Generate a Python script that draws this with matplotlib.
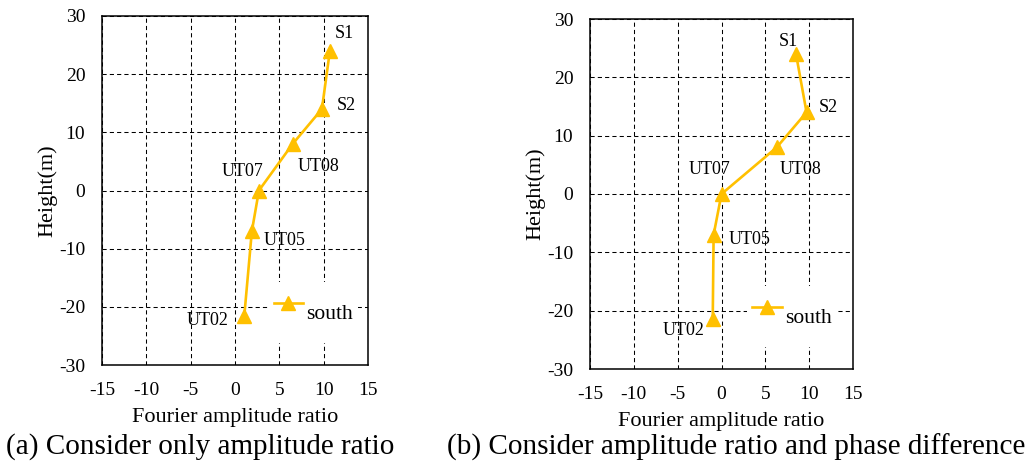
import matplotlib
matplotlib.use("Agg")
import matplotlib.pyplot as plt

plt.rcParams['font.family'] = ['Liberation Serif', 'DejaVu Serif']
plt.rcParams['axes.unicode_minus'] = False

# data
labels = ["S1", "S2", "UT08", "UT07", "UT05", "UT02"]
heights = [24, 14, 8, 0, -7, -21.5]
ratio_a = [10.7, 9.8, 6.5, 2.7, 1.9, 1.05]
ratio_b = [8.5, 9.7, 6.3, 0.0, -0.9, -1.0]

# label offsets in pixels (dx, dy) for each point
offsets_a = [(15, 17), (24, 4), (26, -23), (-16, 19), (33, -9), (-37, -5)]
offsets_b = [(-8, 12), (22, 5), (24, -22), (-12, 24), (36, -5), (-29, -11)]

line_color = '#FFC000'

fig = plt.figure(figsize=(10.33, 4.7), dpi=100)
W, H = 1033, 470


def make_axes(l, r, t, b):
    return fig.add_axes([l / W, (H - b) / H, (r - l) / W, (b - t) / H])


def draw_panel(ax, xs, offsets, leg_x):
    ax.plot(xs, heights, color=line_color, lw=1.9, marker='^', markersize=9.5,
            label='south', zorder=3)
    for name, x, y, (dx, dy) in zip(labels, xs, heights, offsets):
        ax.annotate(name, (x, y), xytext=(dx, dy), textcoords='offset pixels',
                    ha='center', va='center', fontsize=13, zorder=4)
    ax.set_xlim(-15, 15)
    ax.set_ylim(-30, 30)
    ax.set_xticks(range(-15, 16, 5))
    ax.set_yticks(range(-30, 31, 10))
    ax.grid(True, color='black', linestyle=(0, (4, 3)), linewidth=0.75)
    ax.set_axisbelow(True)
    ax.tick_params(length=0, labelsize=14)
    ax.tick_params(axis='y', pad=12)
    ax.tick_params(axis='x', pad=12)
    for sp in ax.spines.values():
        sp.set_linewidth(1.1)
        sp.set_color('black')
    ax.set_xlabel("Fourier amplitude ratio", fontsize=16, labelpad=7)
    ax.set_ylabel("Height(m)", fontsize=16, labelpad=1)
    ax.legend(loc='center', bbox_to_anchor=(leg_x, 1 / 6 - 0.017),
              bbox_transform=ax.transAxes, fontsize=15.5,
              handlelength=1.35, handletextpad=0.15, handleheight=3.2,
              borderpad=0.25, borderaxespad=0, frameon=True,
              fancybox=False, facecolor='white', edgecolor='none',
              framealpha=1)


ax1 = make_axes(102, 368, 16, 365)
draw_panel(ax1, ratio_a, offsets_a, 0.795)

ax2 = make_axes(590, 853, 19, 369)
draw_panel(ax2, ratio_b, offsets_b, 0.768)

fig.text(200 / W, (H - 447) / H, "(a) Consider only amplitude ratio",
         ha='center', va='center', fontsize=21)
fig.text(736 / W, (H - 447) / H, "(b) Consider amplitude ratio and phase difference",
         ha='center', va='center', fontsize=21)

fig.savefig("out.png", dpi=100)
